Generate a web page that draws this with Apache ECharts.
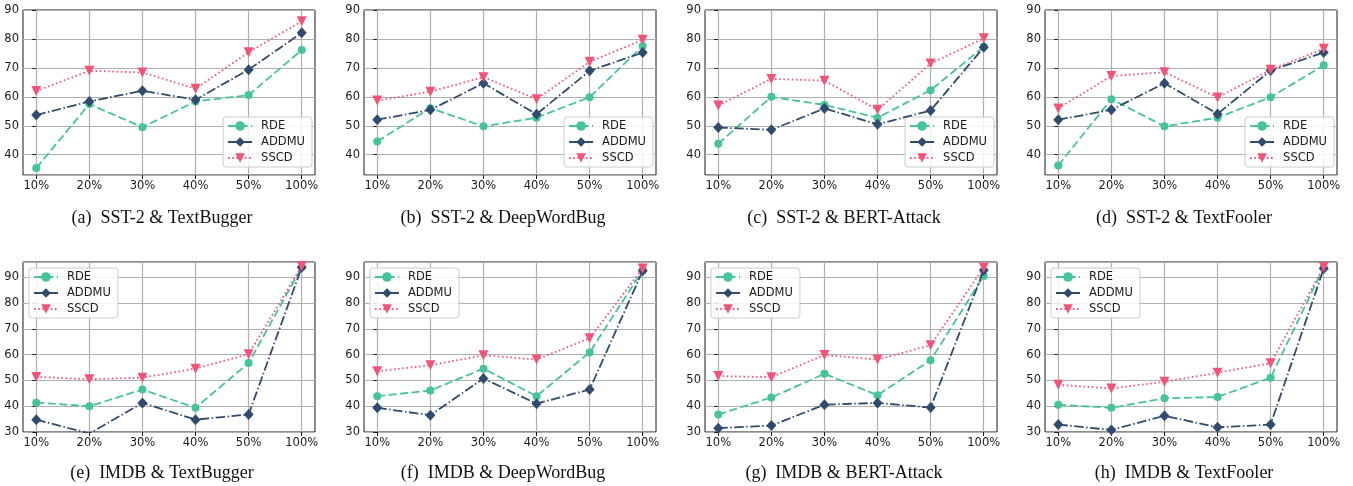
<!DOCTYPE html>
<html>
<head>
<meta charset="utf-8">
<script src="https://cdn.jsdelivr.net/npm/echarts@6/dist/echarts.min.js"></script>
<style>
html,body{margin:0;padding:0;background:#fff;}
#chart{width:1353px;height:486px;}
</style>
</head>
<body>
<div id="chart"></div>
<script>
const categories = ['10%', '20%', '30%', '40%', '50%', '100%'];
const seriesNames = ['RDE', 'ADDMU', 'SSCD'];
const captions = [
  '(a)  SST-2 & TextBugger', '(b)  SST-2 & DeepWordBug', '(c)  SST-2 & BERT-Attack', '(d)  SST-2 & TextFooler',
  '(e)  IMDB & TextBugger', '(f)  IMDB & DeepWordBug', '(g)  IMDB & BERT-Attack', '(h)  IMDB & TextFooler'
];

const a_RDE   = [35.4, 57.5, 49.5, 58.4, 60.6, 76.2];
const a_ADDMU = [53.7, 58.4, 62.1, 59.0, 69.4, 82.1];
const a_SSCD  = [62.0, 69.0, 68.4, 62.8, 75.4, 86.1];

const b_RDE   = [44.6, 56.1, 49.8, 52.8, 59.9, 77.6];
const b_ADDMU = [52.1, 55.5, 64.7, 54.0, 69.0, 75.3];
const b_SSCD  = [58.7, 61.8, 66.8, 59.2, 72.1, 79.7];

const c_RDE   = [43.8, 60.0, 57.2, 52.8, 62.3, 77.3];
const c_ADDMU = [49.4, 48.6, 56.0, 50.5, 55.3, 77.1];
const c_SSCD  = [57.0, 66.2, 65.6, 55.5, 71.5, 80.2];

const d_RDE   = [36.3, 59.2, 49.8, 52.8, 59.9, 70.9];
const d_ADDMU = [52.1, 55.5, 64.7, 54.1, 69.1, 75.3];
const d_SSCD  = [56.0, 67.2, 68.5, 59.8, 69.4, 76.6];

const e_RDE   = [41.4, 40.0, 46.5, 39.4, 56.8, 94.0];
const e_ADDMU = [34.8, 29.4, 41.3, 34.8, 36.8, 94.0];
const e_SSCD  = [51.4, 50.5, 51.1, 54.6, 60.2, 94.4];

const f_RDE   = [43.9, 46.1, 54.6, 43.9, 60.9, 92.8];
const f_ADDMU = [39.4, 36.5, 50.8, 41.0, 46.5, 92.6];
const f_SSCD  = [53.6, 55.9, 59.8, 58.1, 66.4, 93.5];

const g_RDE   = [36.8, 43.4, 52.6, 44.3, 57.9, 90.6];
const g_ADDMU = [31.5, 32.5, 40.6, 41.3, 39.5, 92.8];
const g_SSCD  = [51.7, 51.3, 59.9, 58.1, 63.7, 93.8];

const h_RDE   = [40.6, 39.4, 43.1, 43.6, 51.1, 93.9];
const h_ADDMU = [32.9, 30.8, 36.3, 31.8, 32.9, 93.5];
const h_SSCD  = [48.3, 46.9, 49.5, 53.0, 56.7, 94.1];

const panels = [
  [a_RDE, a_ADDMU, a_SSCD], [b_RDE, b_ADDMU, b_SSCD], [c_RDE, c_ADDMU, c_SSCD], [d_RDE, d_ADDMU, d_SSCD],
  [e_RDE, e_ADDMU, e_SSCD], [f_RDE, f_ADDMU, f_SSCD], [g_RDE, g_ADDMU, g_SSCD], [h_RDE, h_ADDMU, h_SSCD]
];

// styling
const colors = ['#45c39a', '#2f4b6e', '#f25478'];
const dashes = [[8, 3.5], [9.5, 2.5, 1.5, 2.5], [1.6, 2.6]];
const symbols = ['circle', 'diamond', 'triangle'];
const symbolSizes = [8, [10, 11], 10];
const symbolRotates = [0, 0, 180];

const W = 1353;
const plotLefts = [23, 364, 705, 1045];
const plotWidth = 292;
const rows = [
  {top: 10, height: 165, min: 33, max: 90, capY: 218},
  {top: 262, height: 170, min: 30, max: 96, capY: 473}
];
const font = 'DejaVu Sans';
const fontSize = 11.5;
const frameColor = '#1a1a1a';
const gridColor = '#b0b0b0';

const grid = [], xAxis = [], yAxis = [], series = [], legend = [], graphic = [];

panels.forEach((panel, p) => {
  const r = rows[Math.floor(p / 4)];
  const isTop = p < 4;
  const left = plotLefts[p % 4];
  grid.push({
    left: left, top: r.top, width: plotWidth, height: r.height,
    show: true, borderColor: frameColor, borderWidth: 1, backgroundColor: 'transparent'
  });
  xAxis.push({
    type: 'value', gridIndex: p, min: -0.25, max: 5.25,
    axisLine: {show: false},
    axisTick: {show: true, customValues: [0, 1, 2, 3, 4, 5], length: 4, lineStyle: {color: frameColor}},
    axisLabel: {
      customValues: [0, 1, 2, 3, 4, 5], margin: 5,
      formatter: v => categories[Math.round(v)],
      fontFamily: font, fontSize: fontSize, color: '#1a1a1a'
    },
    splitLine: {show: false}
  });
  yAxis.push({
    type: 'value', gridIndex: p, min: r.min, max: r.max,
    axisLine: {show: false},
    axisTick: {show: true, length: 4, lineStyle: {color: frameColor}},
    axisLabel: {
      fontFamily: font, fontSize: fontSize, color: '#1a1a1a', margin: 4,
      showMinLabel: !isTop, showMaxLabel: isTop
    },
    splitLine: {show: true, lineStyle: {color: gridColor, width: 1.2}}
  });
  panel.forEach((vals, s) => {
    const ser = {
      type: 'line', name: seriesNames[s], xAxisIndex: p, yAxisIndex: p,
      data: vals.map((v, i) => [i, v]),
      symbol: symbols[s], symbolSize: symbolSizes[s], symbolRotate: symbolRotates[s],
      showAllSymbol: true, clip: true,
      lineStyle: {color: colors[s], width: 1.8, type: dashes[s]},
      itemStyle: {color: colors[s]},
      emphasis: {disabled: true},
      animation: false, z: 3 + s
    };
    if (s === 0) {
      ser.markLine = {
        silent: true, symbol: 'none', z: 1, animation: false,
        label: {show: false},
        lineStyle: {color: gridColor, width: 1.2, type: 'solid'},
        emphasis: {disabled: true},
        data: [0, 1, 2, 3, 4, 5].map(i => ({xAxis: i}))
      };
    }
    series.push(ser);
  });
  const lg = {
    orient: 'vertical', data: seriesNames,
    itemWidth: 24, itemHeight: 12, itemGap: 4,
    padding: [3, 7, 3, 4],
    borderColor: '#cccccc', borderWidth: 1, borderRadius: 3,
    backgroundColor: 'rgba(255,255,255,0.85)',
    textStyle: {fontFamily: font, fontSize: fontSize, color: '#1a1a1a', lineHeight: 12, padding: [0, 0, 0, 4]},
    selectedMode: false
  };
  if (isTop) {
    lg.right = W - (left + plotWidth - 3);
    lg.top = 117;
  } else {
    lg.left = left + 6;
    lg.top = 268;
  }
  legend.push(lg);
  graphic.push({
    type: 'text', x: left + plotWidth / 2 - 7, y: r.capY,
    style: {
      text: captions[p], fill: '#111', font: '18px "Liberation Serif"',
      textAlign: 'center', textVerticalAlign: 'middle'
    }
  });
});

const chart = echarts.init(document.getElementById('chart'), null, {renderer: 'canvas'});
chart.setOption({
  animation: false,
  backgroundColor: '#ffffff',
  grid, xAxis, yAxis, series, legend, graphic
});
</script>
</body>
</html>
